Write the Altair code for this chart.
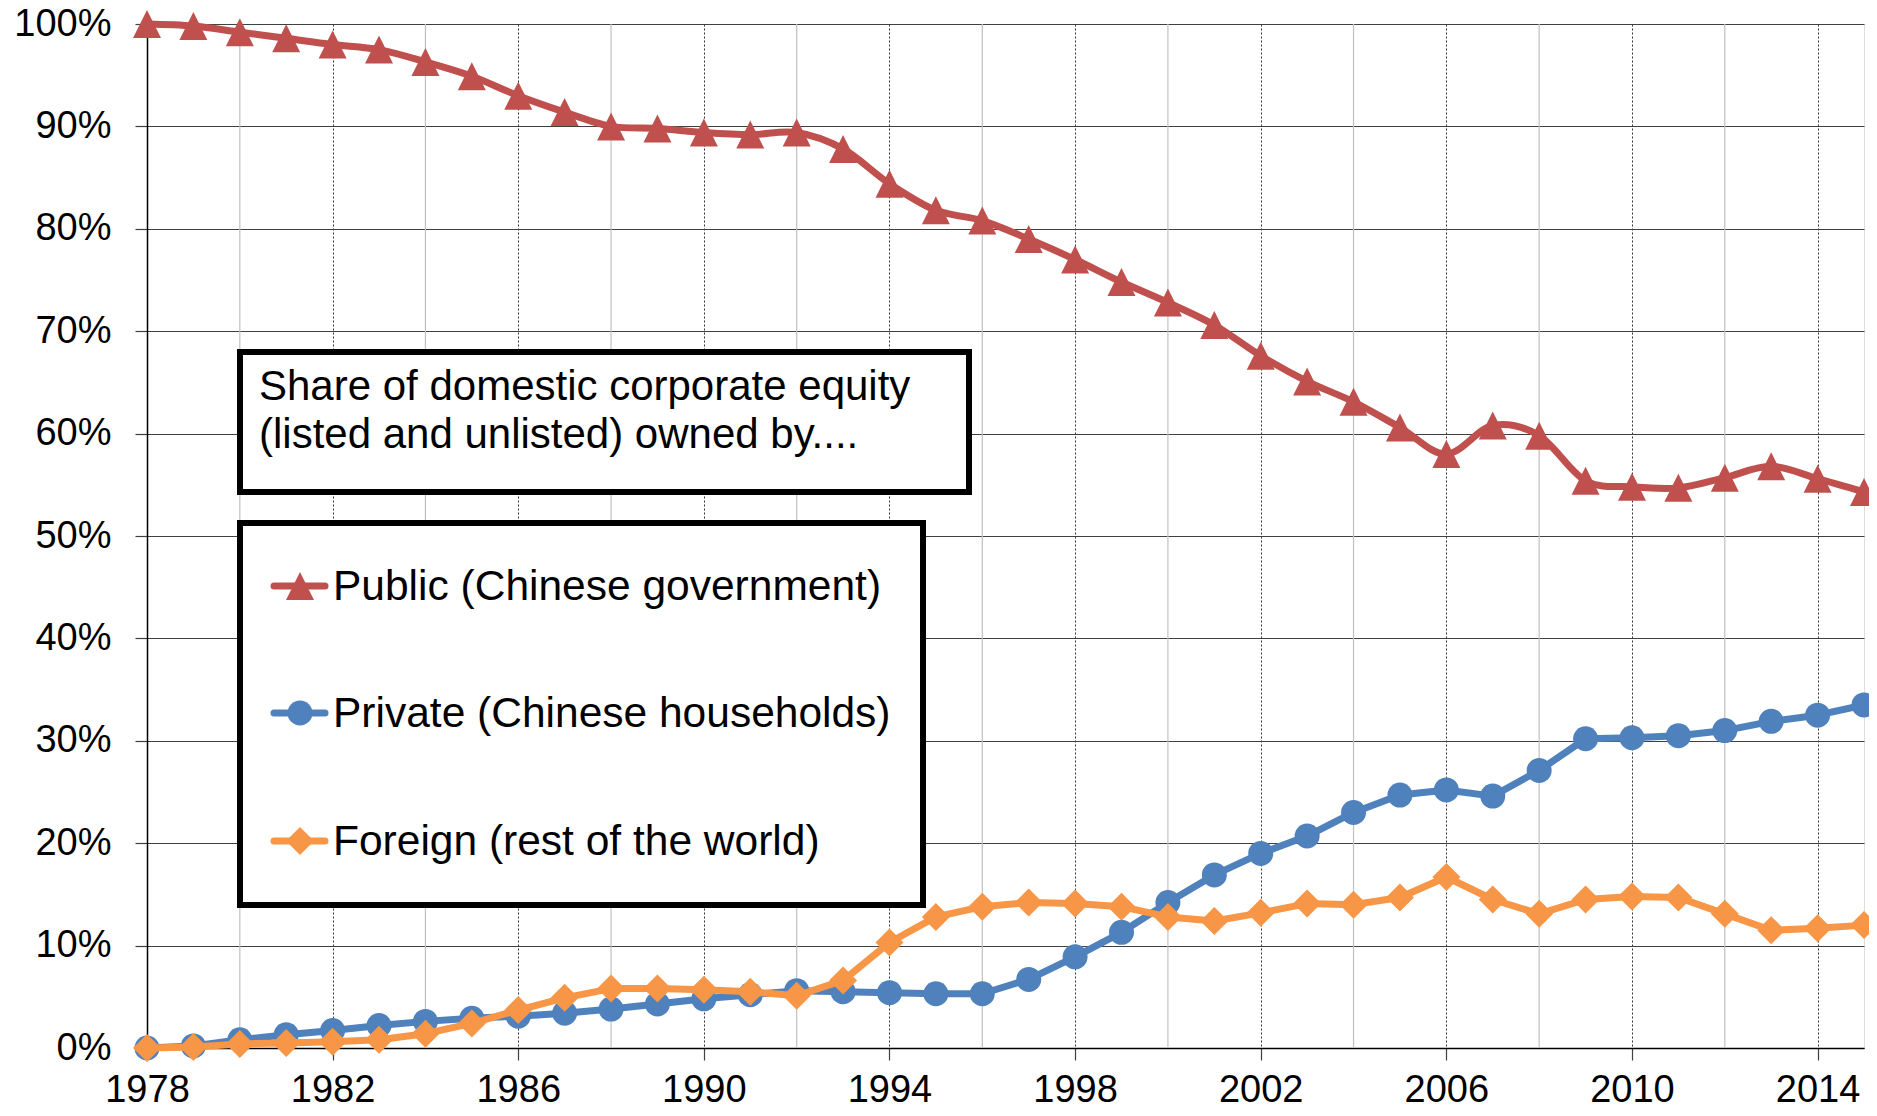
import altair as alt
import pandas as pd

# ---------------- data ----------------
years = list(range(1978, 2016))
public = [100.0, 99.8, 99.2, 98.6, 98.0, 97.5, 96.3, 94.9, 93.0, 91.4,
          90.0, 89.8, 89.4, 89.2, 89.4, 87.8, 84.4, 81.8, 80.8, 79.0,
          77.0, 74.8, 72.8, 70.6, 67.6, 65.1, 63.1, 60.6, 58.0, 60.8,
          59.8, 55.4, 54.8, 54.7, 55.7, 56.8, 55.6, 54.3]
private = [0.0, 0.2, 0.8, 1.3, 1.7, 2.2, 2.6, 2.9, 3.1, 3.4,
           3.8, 4.3, 4.8, 5.2, 5.6, 5.5, 5.4, 5.3, 5.3, 6.7,
           8.9, 11.3, 14.2, 16.9, 19.0, 20.7, 23.0, 24.7, 25.2, 24.6,
           27.1, 30.2, 30.3, 30.5, 31.0, 31.9, 32.5, 33.5]
foreign = [0.0, 0.1, 0.4, 0.5, 0.6, 0.8, 1.4, 2.4, 3.7, 4.9,
           5.8, 5.8, 5.7, 5.5, 5.1, 6.6, 10.3, 12.8, 13.8, 14.2,
           14.1, 13.8, 12.8, 12.4, 13.2, 14.1, 14.0, 14.7, 16.7, 14.5,
           13.1, 14.5, 14.8, 14.7, 13.1, 11.5, 11.7, 12.0]

series_names = ["Public (Chinese government)",
                "Private (Chinese households)",
                "Foreign (rest of the world)"]
series_colors = ["#C0504D", "#4F81BD", "#F79646"]
series_shapes = ["M0,-1L1,1L-1,1Z", "circle", "diamond"]
series_sizes = [784, 625, 784]
series_interp = ["cardinal", "linear", "linear"]

major_years = [1978, 1982, 1986, 1990, 1994, 1998, 2002, 2006, 2010, 2014]
minor_years = [1980, 1984, 1988, 1992, 1996, 2000, 2004, 2008, 2012]
y_ticks = [0, 10, 20, 30, 40, 50, 60, 70, 80, 90, 100]
note_lines = ["Share of domestic corporate equity",
              "(listed and unlisted) owned by...."]

FONT = "Liberation Sans"

rows = []
for name, vals in zip(series_names, [public, private, foreign]):
    for yr, v in zip(years, vals):
        rows.append({"series": name, "year": yr, "value": v})
df = pd.DataFrame(rows)

x_enc = alt.X(
    "year:Q",
    scale=alt.Scale(domain=[1978, 2015], nice=False, zero=False),
    axis=alt.Axis(values=major_years, format="d", title=None,
                  grid=True, gridColor="#333333", gridDash=[2, 2], gridWidth=1,
                  tickSize=12, tickColor="#404040", tickWidth=1.2,
                  domainColor="black", domainWidth=1.5,
                  labelFont=FONT, labelFontSize=38, labelColor="black",
                  labelPadding=11, labelFlush=False, labelOverlap=False),
)
y_enc = alt.Y(
    "value:Q",
    scale=alt.Scale(domain=[0, 100], nice=False, zero=True),
    axis=alt.Axis(values=y_ticks, labelExpr="datum.value + '%'", title=None,
                  grid=True, gridColor="#404040", gridWidth=1.2,
                  tickSize=12, tickColor="#404040", tickWidth=1.2,
                  domainColor="black", domainWidth=1.5,
                  labelFont=FONT, labelFontSize=38, labelColor="black",
                  labelPadding=24, labelOverlap=False),
)

layers = []

# minor vertical grid lines
minor_df = pd.DataFrame({"year": minor_years})
layers.append(
    alt.Chart(minor_df).mark_rule(color="#c0c0c0", strokeWidth=1.2)
    .encode(x=alt.X("year:Q"))
)

# series
for name, col, shp, sz, interp in zip(series_names, series_colors,
                                      series_shapes, series_sizes, series_interp):
    sub = df[df["series"] == name]
    base = alt.Chart(sub)
    layers.append(
        base.mark_line(color=col, strokeWidth=7, interpolate=interp,
                       strokeJoin="round", strokeCap="round")
        .encode(x=x_enc, y=y_enc)
    )
    layers.append(
        base.mark_point(color=col, filled=True, opacity=1, shape=shp,
                        size=sz, strokeWidth=0)
        .encode(x="year:Q", y="value:Q")
    )

one = pd.DataFrame({"k": [0]})

# note box
layers.append(
    alt.Chart(one).mark_rect(fill="white", stroke="black", strokeWidth=6)
    .encode(x=alt.value(93), x2=alt.value(822), y=alt.value(328), y2=alt.value(468))
)
for i, line in enumerate(note_lines):
    layers.append(
        alt.Chart(one).mark_text(text=line, font=FONT, fontSize=42, color="black",
                                 align="left", baseline="alphabetic")
        .encode(x=alt.value(112), y=alt.value(376 + 48 * i))
    )

# legend box
layers.append(
    alt.Chart(one).mark_rect(fill="white", stroke="black", strokeWidth=6)
    .encode(x=alt.value(93), x2=alt.value(776), y=alt.value(499), y2=alt.value(881))
)
legend_sym_y = [562, 689, 817]
for i, (name, col, shp, sz) in enumerate(zip(series_names, series_colors,
                                             series_shapes, series_sizes)):
    yy = legend_sym_y[i]
    layers.append(
        alt.Chart(one).mark_rule(color=col, strokeWidth=7, strokeCap="round")
        .encode(x=alt.value(127), x2=alt.value(178), y=alt.value(yy))
    )
    layers.append(
        alt.Chart(one).mark_point(color=col, filled=True, opacity=1, shape=shp,
                                  size=sz, strokeWidth=0)
        .encode(x=alt.value(153), y=alt.value(yy))
    )
    layers.append(
        alt.Chart(one).mark_text(text=name, font=FONT, fontSize=42.5, color="black",
                                 align="left", baseline="alphabetic")
        .encode(x=alt.value(186), y=alt.value(yy + 14))
    )

chart = (
    alt.layer(*layers)
    .properties(width=1717, height=1024,
                autosize=alt.AutoSizeParams(type="none"),
                padding={"left": 139, "top": 16, "right": 5, "bottom": 54})
    .configure_view(stroke="black", strokeWidth=1.5)
    .configure(background="white")
)

chart.save("out.html", embed_options={"renderer": "svg", "actions": False})
